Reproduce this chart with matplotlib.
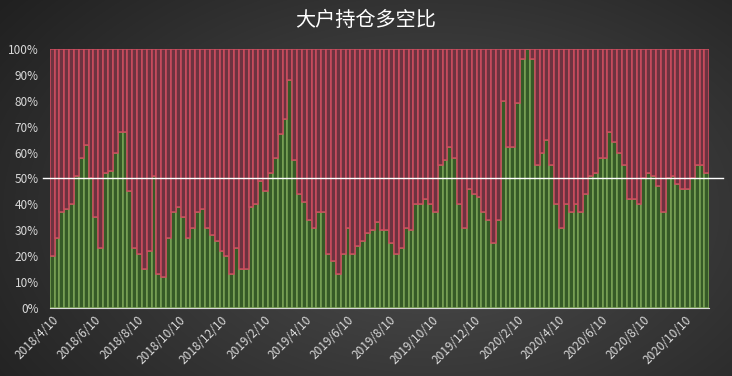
import matplotlib
matplotlib.use("Agg")
import matplotlib.pyplot as plt
import matplotlib.dates as mdates
import numpy as np
import pandas as pd

plt.rcParams['font.family'] = ['Noto Sans CJK SC', 'DejaVu Sans']

# long share (%) per week
long_pct = [20, 27, 37, 38, 40, 51, 58, 63, 50, 35, 23, 52, 53, 60, 68, 68, 45, 23, 21, 15,
            22, 51, 13, 12, 27, 37, 39, 35, 27, 31, 37, 38, 31, 28, 26,
            22, 20, 13, 23, 15, 15, 39, 40, 49, 45, 52, 58, 67, 73, 88, 57, 44, 41, 34,
            31, 37, 37, 21, 18, 13, 21, 31, 21, 24, 26, 29, 30, 33, 30, 30,
            25, 21, 23, 31, 30, 40, 40, 42, 40, 37, 55, 57, 62, 58, 40, 31, 46, 44,
            43, 37, 34, 25, 34, 80, 62, 62, 79, 96, 100, 96, 55, 60, 65, 55, 40,
            31, 40, 37, 40, 37, 44, 51, 52, 58, 58, 68, 64, 60, 55, 42, 42, 40, 50,
            52, 51, 47, 37, 50, 51, 48, 46, 46, 50, 55, 55, 52]
short_pct = [100 - v for v in long_pct]
dates = pd.date_range('2018-04-10', periods=len(long_pct), freq='7D')

tick_dates = pd.date_range('2018-04-01', '2020-10-01', freq='2MS') + pd.Timedelta(days=9)
tick_labels = [f"{d.year}/{d.month}/{d.day}" for d in tick_dates]

fig = plt.figure(figsize=(7.32, 3.76), dpi=100)

# dark radial background
bg = fig.add_axes([0, 0, 1, 1], zorder=-1)
yy, xx = np.mgrid[0:376, 0:732]
r = np.sqrt(((xx - 430) / 500.0) ** 2 + ((yy - 210) / 320.0) ** 2)
shade = np.clip(0.31 - 0.17 * r, 0.11, 0.31)
bg.imshow(np.dstack([shade, shade, shade]), aspect='auto', extent=[0, 1, 0, 1])
bg.axis('off')

ax = fig.add_axes([0.068, 0.181, 0.901, 0.689])
ax.set_facecolor('none')

x = mdates.date2num(dates)
ax.bar(x, long_pct, width=7, color='#365a27', edgecolor='#7aa256', linewidth=1.1, zorder=2)
ax.bar(x, short_pct, bottom=long_pct, width=7, color='#6c3340', edgecolor='#cc4d5f',
       linewidth=1.1, zorder=2)

ax.axhline(50, xmin=-0.011, xmax=1.021, color='white', linewidth=1.0, clip_on=False, zorder=3)

ax.set_ylim(0, 100)
ax.set_xlim(x[0] - 3.5, x[-1] + 3.5)
ax.set_yticks(range(0, 101, 10))
ax.set_yticklabels([f"{v}%" for v in range(0, 101, 10)], color='#d9d9d9', fontsize=8.5)
ax.set_xticks(mdates.date2num(tick_dates))
ax.set_xticklabels(tick_labels, rotation=45, ha='right', rotation_mode='anchor',
                   color='#d9d9d9', fontsize=8.5)
ax.tick_params(axis='x', length=0, pad=4)
ax.tick_params(axis='y', length=0, pad=8)
ax.yaxis.grid(True, color='#ffffff', alpha=0.12, linewidth=0.6, zorder=1)
for s in ['top', 'right', 'left']:
    ax.spines[s].set_visible(False)
ax.spines['bottom'].set_color('#d9d9d9')
ax.spines['bottom'].set_zorder(4)

fig.text(0.5, 0.945, '大户持仓多空比', color='white', fontsize=14.5, ha='center', va='center')

fig.savefig('out.png', dpi=100)
